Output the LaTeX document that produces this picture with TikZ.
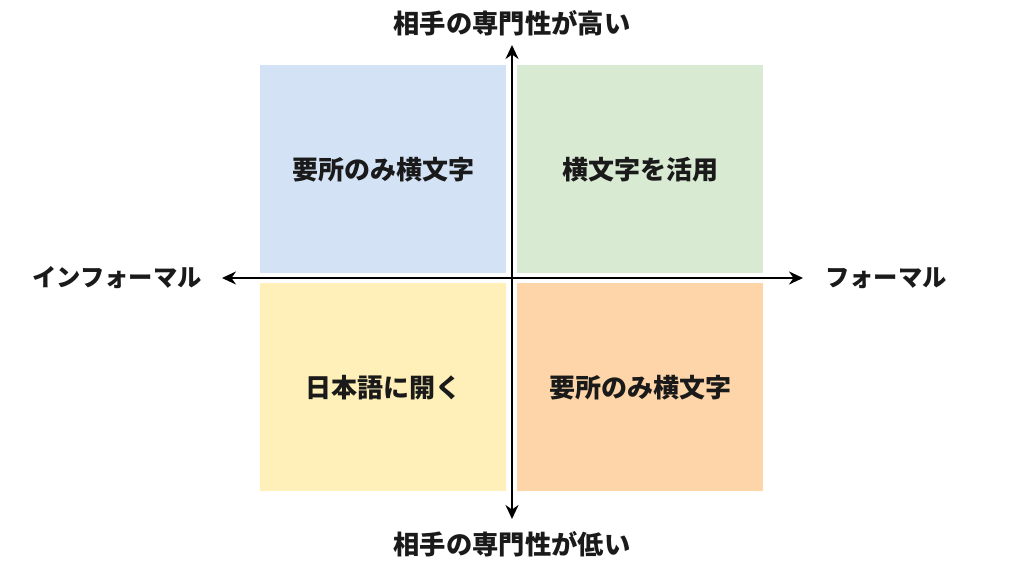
\documentclass[tikz,border=0pt]{standalone}
\usepackage{fontspec}
\setmainfont{Noto Sans CJK JP}
\usetikzlibrary{arrows.meta}
\definecolor{qblue}{HTML}{D3E2F4}
\definecolor{qgreen}{HTML}{D9EAD3}
\definecolor{qyellow}{HTML}{FEF0B8}
\definecolor{qorange}{HTML}{FDD5A8}
\definecolor{txt}{HTML}{1A1A1A}
\begin{document}
\begin{tikzpicture}[x=1pt,y=-1pt,
  quad/.style={draw=none,minimum width=246pt,minimum height=208pt,inner sep=0pt,anchor=north west,
    font=\bfseries\fontsize{26}{30}\selectfont,text=txt},
  lbl/.style={font=\bfseries\fontsize{26.3}{30}\selectfont,text=txt,inner sep=0pt},
  hlbl/.style={font=\bfseries\fontsize{24.3}{30}\selectfont,text=txt,inner sep=0pt},
  axis/.style={line width=2.5pt,color=black,-{Stealth[length=14pt,width=13pt]}}]
\useasboundingbox[fill=white] (0,0) rectangle (1024,576);
\node[quad,fill=qblue] (tl) at (260,65) {要所のみ横文字};
\node[quad,fill=qgreen] (tr) at (517,65) {横文字を活用};
\node[quad,fill=qyellow] (bl) at (260,283) {日本語に開く};
\node[quad,fill=qorange] (br) at (517,283) {要所のみ横文字};
\coordinate (c) at (512,278);
\coordinate (top) at (512,45);
\coordinate (bot) at (512,519);
\coordinate (lft) at (222,278);
\coordinate (rgt) at (803,278);
\draw[axis] (c) -- (top);
\draw[axis] (c) -- (bot);
\draw[axis] (c) -- (lft);
\draw[axis] (c) -- (rgt);
\node[lbl] (tlab) at (512,23) {相手の専門性が高い};
\node[lbl] (blab) at (512,544) {相手の専門性が低い};
\node[hlbl] (llab) at (117,278) {インフォーマル};
\node[hlbl] (rlab) at (886,278) {フォーマル};
\end{tikzpicture}
\end{document}
